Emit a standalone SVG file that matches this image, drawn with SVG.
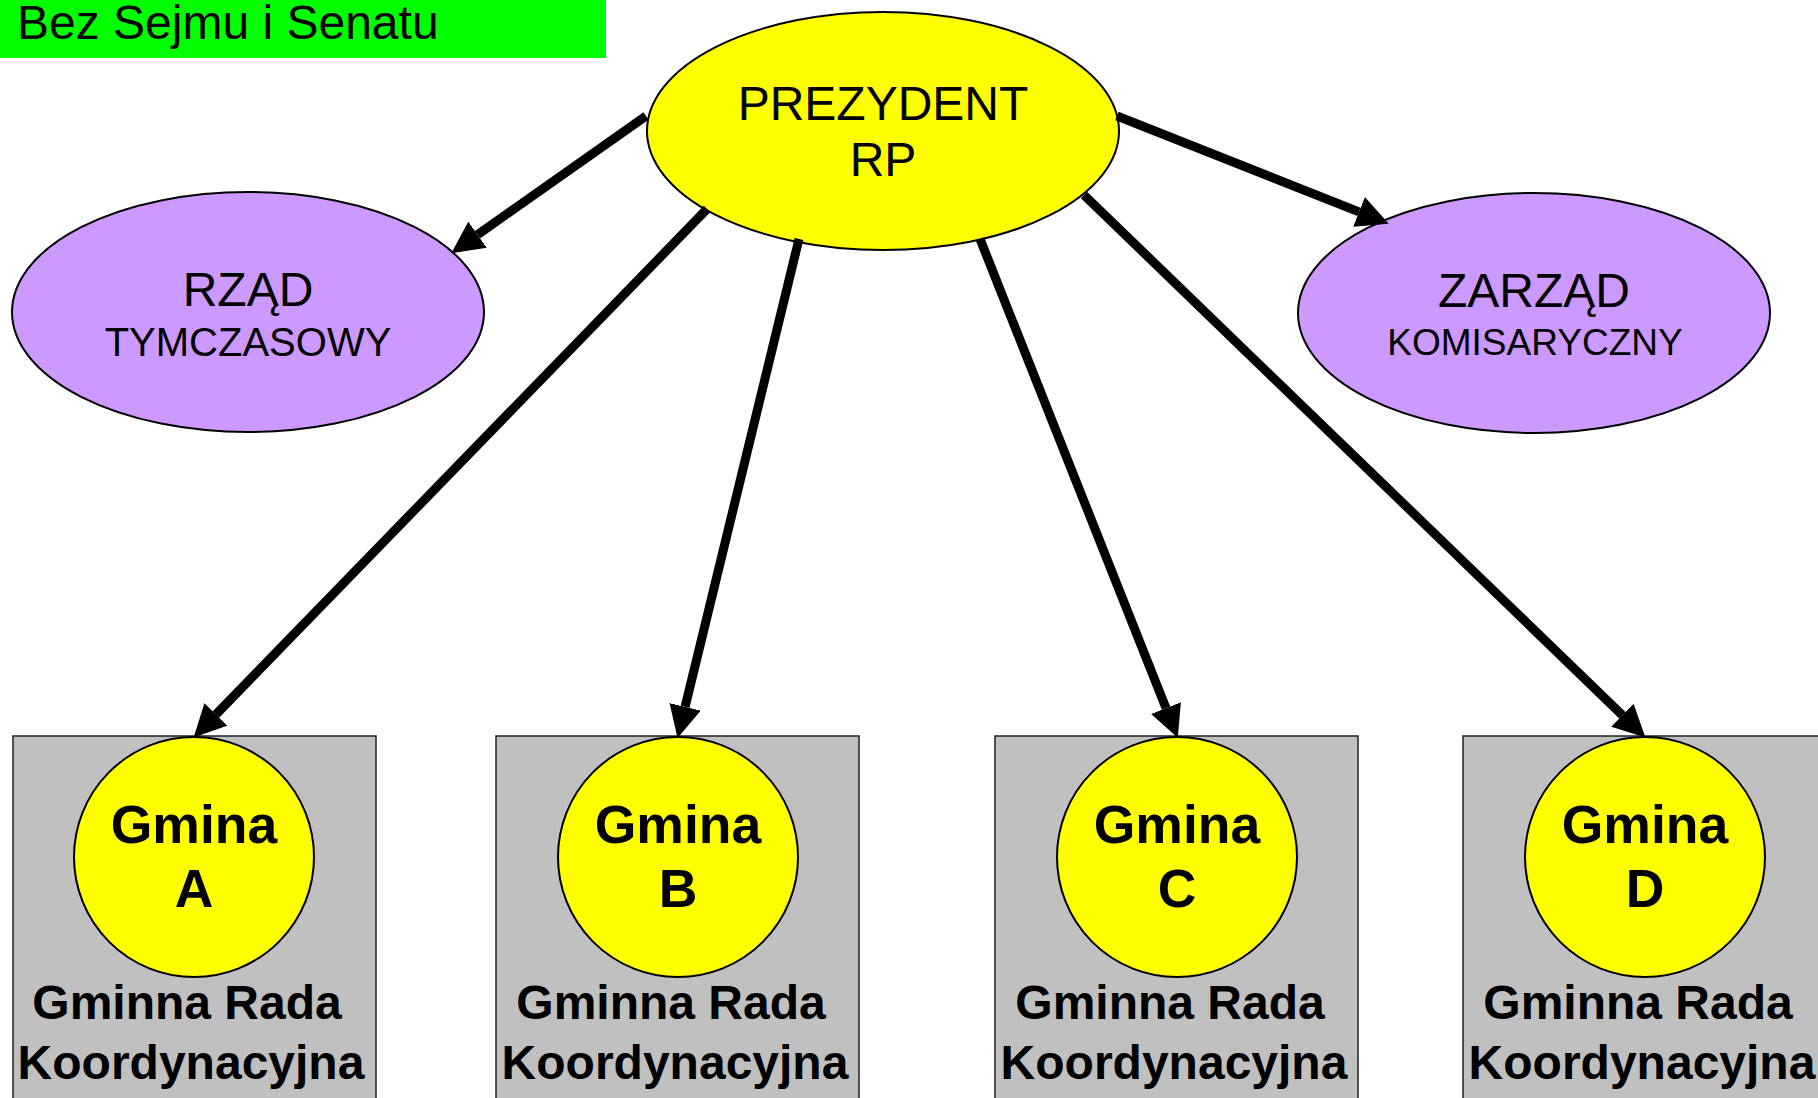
<svg xmlns="http://www.w3.org/2000/svg" width="1818" height="1098" viewBox="0 0 1818 1098">
<style>
text{font-family:"Liberation Sans",Arial,Helvetica,sans-serif;fill:#000;text-anchor:middle}
.big{font-size:48px}
.gm{font-size:53.5px;font-weight:bold}
.rada{font-size:48px;font-weight:bold}
.ell{stroke:#000;stroke-width:2}
.yel{fill:#FFFF00}
.pur{fill:#CC99FF}
.box{fill:#C0C0C0;stroke:#222;stroke-width:1.5}
.circ{fill:#FFFF00;stroke:#000;stroke-width:2}
.conn line{stroke:#000;stroke-width:9;marker-end:url(#head)}
</style>
<defs>
<marker id="head" markerUnits="userSpaceOnUse" markerWidth="32" markerHeight="32" refX="0" refY="15" orient="auto" viewBox="0 0 30 30">
<path d="M0,0 L30,15 L0,30 Z" fill="#000"/>
</marker>
</defs>
<rect width="1818" height="1098" fill="#fff"/>
<g id="label">
<rect x="0" y="0" width="606" height="58" fill="#00FF00"/>
<text x="17" y="39" class="big" style="text-anchor:start">Bez Sejmu i Senatu</text>
</g>
<g id="prezydent">
<ellipse cx="883" cy="131" rx="236" ry="119" class="ell yel"/>
<text x="883" y="120" class="big">PREZYDENT</text>
<text x="883" y="176" class="big">RP</text>
</g>
<g id="rzad">
<ellipse cx="248" cy="312" rx="236" ry="120" class="ell pur"/>
<text x="248" y="306" class="big">RZĄD</text>
<text x="248" y="356" style="font-size:40px">TYMCZASOWY</text>
</g>
<g id="zarzad">
<ellipse cx="1534" cy="313" rx="236" ry="120" class="ell pur"/>
<text x="1534" y="307" class="big">ZARZĄD</text>
<text x="1535" y="355" style="font-size:37px">KOMISARYCZNY</text>
</g>
<g id="gminaA">
<rect x="13" y="736" width="363" height="380" class="box"/>
<circle cx="194" cy="857" r="120" class="circ"/>
<text x="194" y="843" class="gm">Gmina</text>
<text x="194" y="907" class="gm">A</text>
<text x="187" y="1019" class="rada">Gminna Rada</text>
<text x="191" y="1079" class="rada">Koordynacyjna</text>
</g>
<g id="gminaB">
<rect x="496" y="736" width="363" height="380" class="box"/>
<circle cx="678" cy="857" r="120" class="circ"/>
<text x="678" y="843" class="gm">Gmina</text>
<text x="678" y="907" class="gm">B</text>
<text x="671" y="1019" class="rada">Gminna Rada</text>
<text x="675" y="1079" class="rada">Koordynacyjna</text>
</g>
<g id="gminaC">
<rect x="995" y="736" width="363" height="380" class="box"/>
<circle cx="1177" cy="857" r="120" class="circ"/>
<text x="1177" y="843" class="gm">Gmina</text>
<text x="1177" y="907" class="gm">C</text>
<text x="1170" y="1019" class="rada">Gminna Rada</text>
<text x="1174" y="1079" class="rada">Koordynacyjna</text>
</g>
<g id="gminaD">
<rect x="1463" y="736" width="363" height="380" class="box"/>
<circle cx="1645" cy="857" r="120" class="circ"/>
<text x="1645" y="843" class="gm">Gmina</text>
<text x="1645" y="907" class="gm">D</text>
<text x="1638" y="1019" class="rada">Gminna Rada</text>
<text x="1642" y="1079" class="rada">Koordynacyjna</text>
</g>
<g id="connectors" class="conn">
<line x1="646" y1="116" x2="477.5" y2="234.7"/>
<line x1="1117" y1="116" x2="1359" y2="211.9"/>
<line x1="707" y1="209" x2="215.9" y2="714.5"/>
<line x1="799" y1="239" x2="685.1" y2="706.9"/>
<line x1="980" y1="239" x2="1166" y2="708.1"/>
<line x1="1084" y1="195" x2="1622.4" y2="715.2"/>
</g>
</svg>
